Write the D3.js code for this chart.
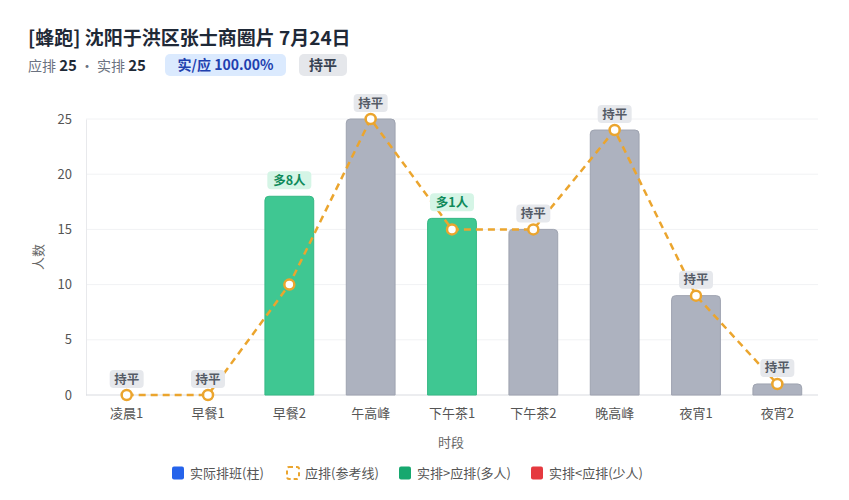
<!DOCTYPE html>
<html><head><meta charset="utf-8">
<script src="https://cdn.jsdelivr.net/npm/d3@7"></script>
<style>
body{margin:0;background:#fff;font-family:"Noto Sans CJK SC","Noto Sans",sans-serif;}
svg{display:block;}
</style></head><body>
<svg id="c" width="849" height="500"></svg>
<script>
const categories = ["凌晨1","早餐1","早餐2","午高峰","下午茶1","下午茶2","晚高峰","夜宵1","夜宵2"];
const actual = [0,0,18,25,16,15,24,9,1];
const planned = [0,0,10,25,15,15,24,9,1];
const yTicks = [0,5,10,15,20,25];
const legendItems = ["实际排班(柱)","应排(参考线)","实排>应排(多人)","实排<应排(少人)"];

const F = '"Noto Sans CJK SC","Noto Sans",sans-serif';
const svg = d3.select("#c");
const M = {l:86, r:818, t:119, b:395};
const x = d3.scaleBand().domain(categories).range([M.l, M.r]).paddingInner(0.4).paddingOuter(0.2);
const y = d3.scaleLinear().domain([0,25]).range([M.b, M.t]);

// title
svg.append("text").attr("x",28).attr("y",45).attr("font-family",F).attr("font-size",19).attr("font-weight",700).attr("fill","#1f2937").text("[蜂跑] 沈阳于洪区张士商圈片 7月24日");
const sub = svg.append("text").attr("x",28).attr("y",71).attr("font-family",F).attr("font-size",14).attr("fill","#6b7280");
sub.append("tspan").text("应排 ");
sub.append("tspan").attr("font-weight",700).attr("font-size",15).attr("fill","#1f2937").text("25");
sub.append("tspan").text(" · 实排 ");
sub.append("tspan").attr("font-weight",700).attr("font-size",15).attr("fill","#1f2937").text("25");
svg.append("rect").attr("x",165).attr("y",54).attr("width",121).attr("height",22).attr("rx",5).attr("fill","#dbeafe");
svg.append("text").attr("x",225.5).attr("y",70).attr("text-anchor","middle").attr("font-family",F).attr("font-size",14).attr("font-weight",700).attr("fill","#1e40af").text("实/应 100.00%");
svg.append("rect").attr("x",299).attr("y",54).attr("width",48).attr("height",22).attr("rx",5).attr("fill","#e5e7eb");
svg.append("text").attr("x",323).attr("y",70).attr("text-anchor","middle").attr("font-family",F).attr("font-size",14).attr("font-weight",700).attr("fill","#374151").text("持平");

// grid
svg.append("g").selectAll("line").data(yTicks.filter(d=>d>0)).join("line")
  .attr("x1",M.l).attr("x2",M.r).attr("y1",d=>y(d)).attr("y2",d=>y(d)).attr("stroke","#f1f2f4").attr("stroke-width",1);

// y axis
const ya = svg.append("g").attr("transform",`translate(${M.l},0)`).call(d3.axisLeft(y).tickValues(yTicks).tickSize(0).tickPadding(14));
ya.select(".domain").attr("stroke","#e8e9ec");
ya.selectAll("text").attr("font-family",F).attr("font-size",13).attr("fill","#555");
// x axis
const xa = svg.append("g").attr("transform",`translate(0,${M.b})`).call(d3.axisBottom(x).tickSize(0).tickPadding(14));
xa.select(".domain").attr("stroke","#d9dbe0").attr("d",`M${M.l},0H${M.r}`);
xa.selectAll("text").attr("font-family",F).attr("font-size",13).attr("fill","#555");

svg.append("text").attr("transform","translate(43,257) rotate(-90)").attr("text-anchor","middle").attr("font-family",F).attr("font-size",13).attr("fill","#666").text("人数");
svg.append("text").attr("x",451).attr("y",447).attr("text-anchor","middle").attr("font-family",F).attr("font-size",13).attr("fill","#666").text("时段");

// bars
const data = categories.map((c,i)=>({c, a:actual[i], p:planned[i], d:actual[i]-planned[i]}));
function barPath(d){
  const x0 = x(d.c), w = x.bandwidth(), y0 = y(d.a), h = y(0)-y0;
  const r = Math.min(4, h);
  if (h<=0) return "";
  return `M${x0},${y(0)}V${y0+r}Q${x0},${y0} ${x0+r},${y0}H${x0+w-r}Q${x0+w},${y0} ${x0+w},${y0+r}V${y(0)}Z`;
}
svg.append("g").selectAll("path").data(data).join("path")
  .attr("d",barPath)
  .attr("fill",d=>d.d>0?"#3fc792":(d.d<0?"#ef4444":"#adb2bf"))
  .attr("stroke",d=>d.d>0?"#35b884":(d.d<0?"#dc2626":"#9ea3b0")).attr("stroke-width",1);

// line
const line = d3.line().x(d=>x(d.c)+x.bandwidth()/2).y(d=>y(d.p));
svg.append("path").datum(data).attr("d",line).attr("fill","none").attr("stroke","#eba52e").attr("stroke-width",2.5).attr("stroke-dasharray","7,5");
svg.append("g").selectAll("circle").data(data).join("circle")
  .attr("cx",d=>x(d.c)+x.bandwidth()/2).attr("cy",d=>y(d.p)).attr("r",5)
  .attr("fill","#fff").attr("stroke","#eba52e").attr("stroke-width",2.5);

// labels
const lg = svg.append("g").selectAll("g").data(data).join("g")
  .attr("transform",d=>`translate(${x(d.c)+x.bandwidth()/2},${Math.min(y(d.a),y(d.p))-16})`);
lg.each(function(d){
  const g = d3.select(this);
  const txt = d.d>0?`多${d.d}人`:(d.d<0?`少${-d.d}人`:"持平");
  const w = txt.length>2?44:34;
  g.append("rect").attr("x",-w/2).attr("y",-9).attr("width",w).attr("height",18).attr("rx",4)
    .attr("fill",d.d>0?"#d5f5e6":(d.d<0?"#fde2e2":"#e6e8ec"));
  g.append("text").attr("y",4.5).attr("text-anchor","middle").attr("font-family",F).attr("font-size",12.5).attr("font-weight",700)
    .attr("fill",d.d>0?"#0f8a5a":(d.d<0?"#b91c1c":"#555b66")).text(txt);
});

// legend
const lx = [172,287,399,531];
const leg = svg.append("g");
legendItems.forEach((t,i)=>{
  const g = leg.append("g").attr("transform",`translate(${lx[i]},473)`);
  if(i===1){
    g.append("rect").attr("x",0).attr("y",-6).attr("width",12).attr("height",12).attr("rx",2)
      .attr("fill","#fff").attr("stroke","#eba52e").attr("stroke-width",2).attr("stroke-dasharray","4,3");
  } else {
    g.append("rect").attr("x",0).attr("y",-6.5).attr("width",12).attr("height",13).attr("rx",2)
      .attr("fill",["#2563eb",null,"#16a86f","#e5393f"][i]);
  }
  g.append("text").attr("x",18).attr("y",4.5).attr("font-family",F).attr("font-size",13).attr("fill","#555").text(t);
});
</script></body></html>
